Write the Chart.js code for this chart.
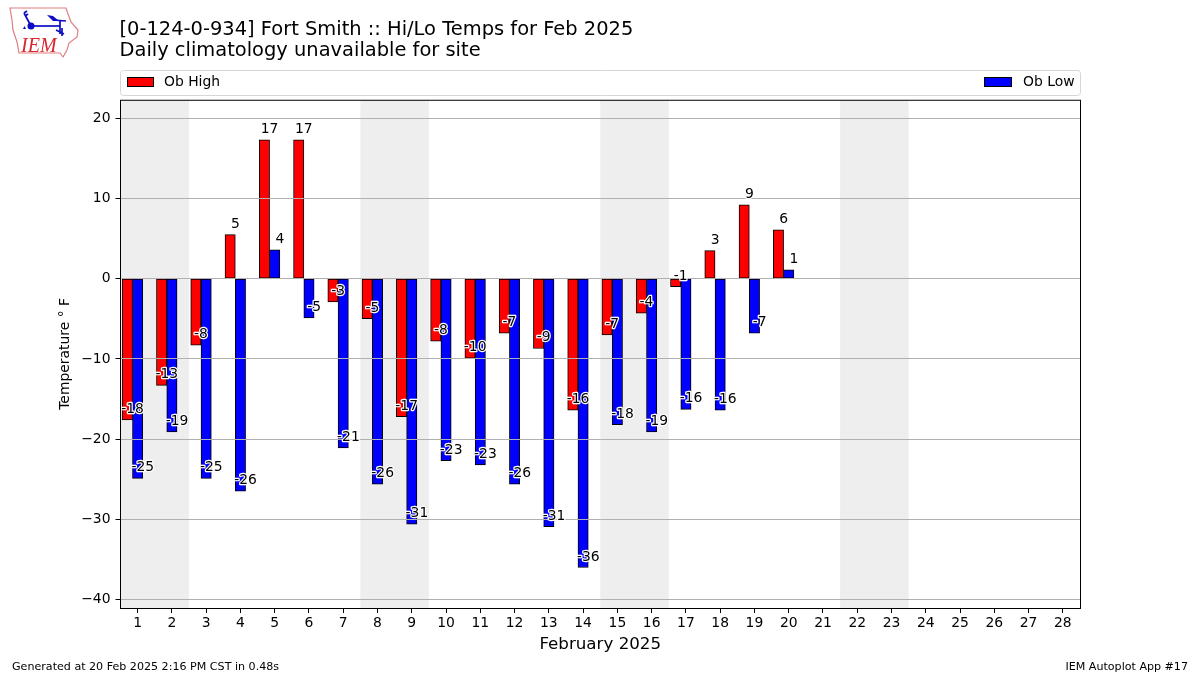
<!DOCTYPE html>
<html>
<head>
<meta charset="utf-8">
<title>Fort Smith Hi/Lo Temps</title>
<script src="https://cdn.jsdelivr.net/npm/chart.js@4"></script>
<style>
    html, body { margin: 0; padding: 0; background: #fff; }
    #wrap { position: relative; width: 1200px; height: 675px; overflow: hidden; }
    #logo { position: absolute; left: 0; top: 0; }
    .foot { position: absolute; top: 660px; font: 11.1px 'DejaVu Sans', sans-serif; color: #000; white-space: nowrap; }
</style>
</head>
<body>
<div id="wrap">
    <canvas id="chart" width="1200" height="675"></canvas>
    <svg id="logo" width="90" height="65" viewBox="0 0 90 65">
        <path d="M10 8 L66 8 L68 14 L71 22 L78 30 L77 37 L69 43 L67 50 L63 57 L60 53 L19 53 L17 42 L13 30 L12 20 Z" fill="#fff" stroke="#e07f7f" stroke-width="1.2"/>
        <g stroke="#0c0cc8" fill="none" stroke-width="1.7">
            <path d="M31 26 L60 26"/>
            <path d="M31 26 L24 13 M24 13 L27 11 M25 16 L28 14"/>
            <path d="M60 21 L60 34 M66 21 L53 20 M56 30 L64 34 M62 28 L62 36"/>
        </g>
        <circle cx="31" cy="26" r="3.5" fill="#0c0cc8"/>
        <path d="M47 15 L53 16 L59 21 L53 21 Z" fill="#0c0cc8"/>
        <path d="M23 29 L24.5 26 L26 29 Z" fill="#0c0cc8"/>
        <text x="21" y="52" font-family="'Liberation Serif', serif" font-style="italic" font-size="20" fill="#d8262c">IEM</text>
    </svg>
    <div class="foot" style="left:12px">Generated at 20 Feb 2025 2:16 PM CST in 0.48s</div>
    <div class="foot" style="right:12px">IEM Autoplot App #17</div>
</div>
<script>
const titleLines = ['[0-124-0-934] Fort Smith :: Hi/Lo Temps for Feb 2025', 'Daily climatology unavailable for site'];
const days = [1, 2, 3, 4, 5, 6, 7, 8, 9, 10, 11, 12, 13, 14, 15, 16, 17, 18, 19, 20, 21, 22, 23, 24, 25, 26, 27, 28];
const obDays = [1, 2, 3, 4, 5, 6, 7, 8, 9, 10, 11, 12, 13, 14, 15, 16, 17, 18, 19, 20];
const obHigh = [-17.6, -13.3, -8.3, 5.5, 17.3, 17.3, -2.9, -5.0, -17.2, -7.8, -9.9, -6.8, -8.7, -16.4, -7.0, -4.3, -1.0, 3.5, 9.2, 6.1];
const obLow = [-24.9, -19.1, -24.9, -26.5, 3.6, -4.9, -21.1, -25.6, -30.6, -22.7, -23.2, -25.6, -30.9, -36.0, -18.2, -19.1, -16.3, -16.4, -6.8, 1.1];
const highLabels = [-18, -13, -8, 5, 17, 17, -3, -5, -17, -8, -10, -7, -9, -16, -7, -4, -1, 3, 9, 6];
const lowLabels = [-25, -19, -25, -26, 4, -5, -21, -26, -31, -23, -23, -26, -31, -36, -18, -19, -16, -16, -7, 1];
const yTicks = [-40, -30, -20, -10, 0, 10, 20];
const weekends = [[1, 2], [8, 9], [15, 16], [22, 23]];

const FONT = "'DejaVu Sans', sans-serif";

// grey bands behind the bars for sat/sun
const weekendBands = {
    id: 'weekendBands',
    // title text starts a pixel left of the plot box in the original
    afterLayout(chart) {
        chart.titleBlock.left -= 1;
        chart.titleBlock.right -= 1;
    },
    beforeDatasetsDraw(chart) {
        const { ctx, chartArea: { top, bottom }, scales: { x } } = chart;
        ctx.save();
        ctx.fillStyle = '#eeeeee';
        weekends.forEach(w => {
            const x0 = x.getPixelForValue(w[0] - 0.5);
            const x1 = x.getPixelForValue(w[1] + 0.5);
            ctx.fillRect(x0, top, x1 - x0, bottom - top);
        });
        ctx.restore();
    }
};

// value labels sit at the right edge of each bar, white halo like the original
const barLabels = {
    id: 'barLabels',
    afterDraw(chart) {
        const { ctx, scales: { x, y } } = chart;
        ctx.save();
        ctx.font = '13.9px ' + FONT;
        ctx.textAlign = 'center';
        ctx.textBaseline = 'alphabetic';
        ctx.lineJoin = 'round';
        const put = (vals, labels, shift) => {
            vals.forEach((v, i) => {
                const px = x.getPixelForValue(obDays[i] + shift);
                const py = y.getPixelForValue(v + 0.87);
                const txt = String(labels[i]);
                ctx.strokeStyle = '#fff';
                ctx.lineWidth = 2.4;
                ctx.strokeText(txt, px, py);
                ctx.fillStyle = '#000';
                ctx.fillText(txt, px, py);
            });
        };
        put(obHigh, highLabels, -0.15);
        put(obLow, lowLabels, 0.15);
        ctx.restore();
    }
};

// box around the plot and the expanded legend strip above it
const frameAndLegend = {
    id: 'frameAndLegend',
    afterDraw(chart) {
        const { ctx, chartArea: { top, bottom } } = chart;
        ctx.save();
        ctx.strokeStyle = '#000';
        ctx.lineWidth = 1;
        ctx.strokeRect(120.5, top + 0.5, 960, bottom - top);

        ctx.strokeStyle = '#d6d6d6';
        ctx.beginPath();
        ctx.roundRect(120.5, 70.5, 960, 25, 3);
        ctx.stroke();

        ctx.font = '13.9px ' + FONT;
        ctx.textBaseline = 'middle';
        ctx.textAlign = 'left';
        const sets = chart.data.datasets;
        ctx.fillStyle = sets[0].backgroundColor;
        ctx.fillRect(127, 77, 27, 9.5);
        ctx.strokeStyle = '#000';
        ctx.strokeRect(127.5, 77.5, 26, 9);
        ctx.fillStyle = '#000';
        ctx.fillText(sets[0].label, 164, 82);

        ctx.fillStyle = sets[1].backgroundColor;
        ctx.fillRect(984, 77, 28, 9.5);
        ctx.strokeRect(984.5, 77.5, 27, 9);
        ctx.fillStyle = '#000';
        ctx.fillText(sets[1].label, 1023, 82);
        ctx.restore();
    }
};

new Chart(document.getElementById('chart'), {
    type: 'bar',
    data: {
        datasets: [{
            label: 'Ob High',
            data: obDays.map((d, i) => ({ x: d - 0.3, y: obHigh[i] })),
            backgroundColor: '#ff0000',
            borderColor: '#000',
            borderWidth: 1,
            borderSkipped: false,
            barThickness: 10.3,
            grouped: false
        }, {
            label: 'Ob Low',
            data: obDays.map((d, i) => ({ x: d, y: obLow[i] })),
            backgroundColor: '#0000ff',
            borderColor: '#000',
            borderWidth: 1,
            borderSkipped: false,
            barThickness: 10.3,
            grouped: false
        }]
    },
    options: {
        responsive: false,
        animation: false,
        layout: { padding: { left: 49.5, right: 120, top: 0, bottom: 20 } },
        plugins: {
            legend: { display: false },
            tooltip: { enabled: false },
            title: {
                display: true,
                text: titleLines,
                align: 'start',
                fullSize: false,
                color: '#000',
                font: { family: FONT, size: 19.44, weight: 'normal', lineHeight: 1.1 },
                padding: { top: 19, bottom: 38 }
            }
        },
        scales: {
            x: {
                type: 'linear',
                offset: false,
                min: 0.5,
                max: 28.5,
                afterBuildTicks: axis => { axis.ticks = days.map(v => ({ value: v })); },
                afterFit: axis => { axis.height = 47; },
                grid: { offset: false, drawOnChartArea: false, drawTicks: true, tickLength: 5, tickColor: '#000', tickWidth: 1 },
                border: { color: '#000' },
                ticks: { color: '#000', autoSkip: false, maxRotation: 0, padding: 2, font: { family: FONT, size: 13.9 } },
                title: { display: true, text: 'February 2025', color: '#000', padding: 0, font: { family: FONT, size: 16.7 } }
            },
            y: {
                min: -41.05,
                max: 22.3,
                afterBuildTicks: axis => { axis.ticks = yTicks.map(v => ({ value: v })); },
                afterFit: axis => { axis.width = 71; },
                grid: { color: '#b0b0b0', z: 1, tickLength: 5, tickColor: '#000', tickWidth: 1 },
                border: { display: false },
                ticks: {
                    color: '#000',
                    padding: 5,
                    font: { family: FONT, size: 13.9 },
                    callback: val => String(val).replace('-', '\u2212')
                },
                title: { display: true, text: 'Temperature \u00b0 F', color: '#000', padding: 8, font: { family: FONT, size: 13.9 } }
            }
        }
    },
    plugins: [weekendBands, barLabels, frameAndLegend]
});
</script>
</body>
</html>
